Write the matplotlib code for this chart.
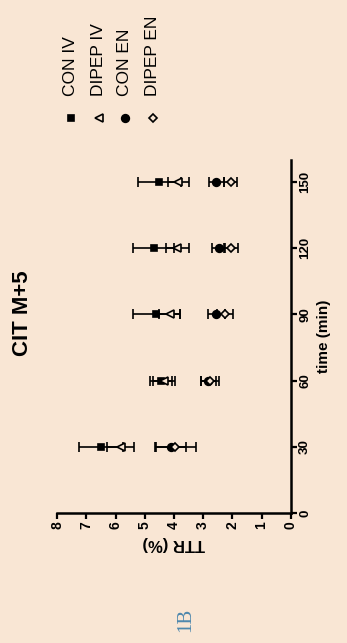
import matplotlib
matplotlib.use("Agg")
import matplotlib.pyplot as plt
from matplotlib.lines import Line2D

# data (figure is drawn turned 90 degrees: TTR runs right-to-left, time runs upward)
times = [30, 60, 90, 120, 150]
series = ["CON IV", "DIPEP IV", "CON EN", "DIPEP EN"]
con_iv = [6.50, 4.45, 4.60, 4.70, 4.50]
con_iv_err = [0.76, 0.38, 0.80, 0.70, 0.75]
dipep_iv = [5.82, 4.35, 4.15, 3.88, 3.85]
dipep_iv_err = [0.46, 0.38, 0.35, 0.41, 0.37]
con_en = [4.10, 2.82, 2.55, 2.47, 2.55]
con_en_err = [0.50, 0.25, 0.30, 0.22, 0.25]
dipep_en = [3.95, 2.76, 2.25, 2.03, 2.05]
dipep_en_err = [0.70, 0.30, 0.28, 0.24, 0.22]
ttr_ticks = list(range(0, 9))
time_ticks = [0, 30, 60, 90, 120, 150]

bg = "#f9e6d4"
plt.rcParams["font.family"] = ["Liberation Sans", "DejaVu Sans"]

fig = plt.figure(figsize=(3.47, 6.43), dpi=100, facecolor=bg)
ax = fig.add_axes([0.165, 0.2022, 0.6728, 0.549])
ax.set_facecolor(bg)

styles = [
    dict(marker="s", mfc="black", ms=5),
    dict(marker="<", mfc=bg, ms=6),
    dict(marker="o", mfc="black", ms=5.5),
    dict(marker="D", mfc=bg, ms=4.5),
]
values = [(con_iv, con_iv_err), (dipep_iv, dipep_iv_err),
          (con_en, con_en_err), (dipep_en, dipep_en_err)]

for (vals, errs), st in zip(values, styles):
    ax.errorbar(vals, times, xerr=errs, fmt="none", ecolor="black",
                elinewidth=1.2, capsize=3.5, capthick=1.2, zorder=2)
    ax.plot(vals, times, ls="none", marker=st["marker"], mfc=st["mfc"],
            mec="black", mew=1.2, ms=st["ms"], zorder=3)

ax.set_xlim(8, 0)
ax.set_ylim(0, 160)
ax.spines["left"].set_visible(False)
ax.spines["top"].set_visible(False)
ax.spines["bottom"].set_linewidth(1.8)
ax.spines["right"].set_linewidth(1.8)
ax.yaxis.tick_right()
ax.yaxis.set_label_position("right")

ax.set_xticks(ttr_ticks)
ax.set_yticks(time_ticks)
ax.tick_params(direction="out", length=4, width=1.6, pad=2)
for lab in ax.get_xticklabels():
    lab.set_rotation(90)
    lab.set_fontweight("bold")
    lab.set_fontsize(10)
for lab in ax.get_yticklabels():
    lab.set_rotation(90)
    lab.set_fontweight("bold")
    lab.set_fontsize(9.5)
    lab.set_va("center")

ax.set_xlabel("TTR (%)", rotation=180, fontsize=12, fontweight="bold", labelpad=5)
ax.set_ylabel("time (min)", rotation=90, fontsize=11, fontweight="bold", labelpad=4)

fig.text(0.066, 0.513, "CIT M+5", rotation=90, ha="center", va="center",
         fontsize=16, fontweight="bold")

# legend, drawn by hand so the text can be turned like the rest
leg_x = [0.2046, 0.2853, 0.3602, 0.4409]
for name, st, x in zip(series, styles, leg_x):
    fig.add_artist(Line2D([x], [0.8165], transform=fig.transFigure, ls="none",
                          marker=st["marker"], mfc=st["mfc"], mec="black",
                          mew=1.2, ms=st["ms"]))
    fig.text(x, 0.851, name, rotation=90, ha="center", va="bottom", fontsize=12.5)

fig.text(0.536, 0.036, "1B", rotation=90, ha="center", va="center",
         color="#4f88ad", fontsize=15, family=["Liberation Serif", "DejaVu Serif"])

fig.savefig("out.png", dpi=100, facecolor=bg)
